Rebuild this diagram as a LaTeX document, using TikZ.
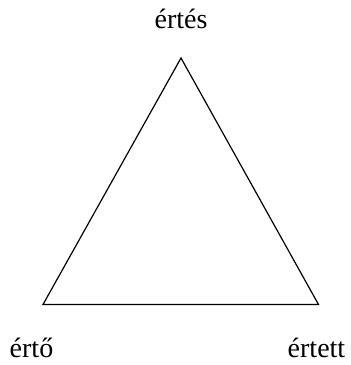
\documentclass[tikz,border=0pt]{standalone}
\usepackage{fontspec}
\setmainfont{Liberation Serif}

\begin{document}
\begin{tikzpicture}[x=1pt, y=-1pt, line width=1.2pt, line join=miter,
  vlabel/.style={anchor=base, inner sep=0pt, font=\fontsize{28}{33}\selectfont}]

  %% corners
  \coordinate (apex)  at (181.0,58.0);
  \coordinate (left)  at (43.0,304.5);
  \coordinate (right) at (318.5,304.5);

  %% triangle
  \draw (apex) -- (right) -- (left) -- cycle;

  %% labels
  \node[vlabel] (lapex)  at (181.0,28.0)  {értés};
  \node[vlabel] (lleft)  at (31.5,357.0)  {értő};
  \node[vlabel] (lright) at (316.5,357.0) {értett};

  \pgfresetboundingbox
  \path[use as bounding box] (0,0) rectangle (351,365);
\end{tikzpicture}
\end{document}
